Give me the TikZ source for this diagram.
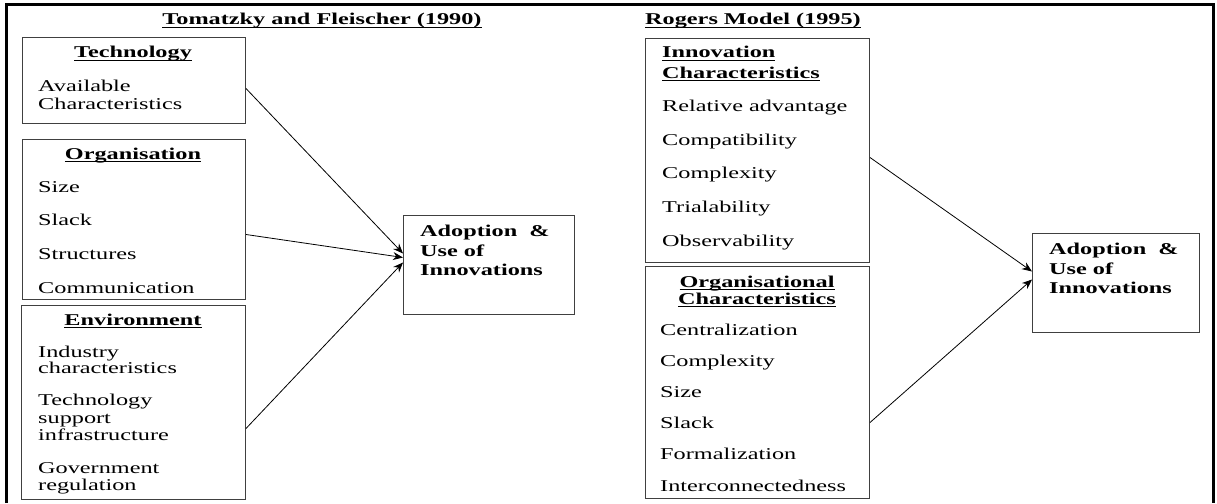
\documentclass[tikz,border=0pt]{standalone}
\usepackage{fontspec}
\usetikzlibrary{arrows.meta}
\setmainfont{Liberation Serif}[FakeStretch=1.47]
\newcommand{\ulhead}[1]{\setbox0\hbox{\textbf{#1}}\rlap{\rule[-3pt]{\wd0}{1.1pt}}\box0}
\tikzset{
  box/.style={draw=black!75, line width=1pt, anchor=north west, inner sep=0pt},
  item/.style={anchor=base west, inner sep=0pt},
  head/.style={anchor=base, inner sep=0pt},
  flow/.style={->, line width=0.8pt}
}
\begin{document}
\begin{tikzpicture}[x=1pt, y=-1pt, >={Stealth[length=10pt,width=8pt]}, font=\fontsize{16.5}{18}\selectfont]
\useasboundingbox (0,0) rectangle (1217,503);
% outer frame (open at the bottom)
\draw[line width=3pt] (6,503)--(6,5)--(1213,5)--(1213,503);
% ---- Tomatzky and Fleischer ----
\node[head] (titleL) at (322,25) {\ulhead{Tomatzky and Fleischer (1990)}};
\node[box, minimum width=223pt, minimum height=86pt] (tech) at (22,37) {};
\node[box, minimum width=223pt, minimum height=160pt] (org) at (22,139) {};
\node[box, minimum width=224pt, minimum height=194pt] (env) at (21,305) {};
\node[box, minimum width=171pt, minimum height=99pt] (adoptL) at (403,215) {};
\node[head] (techH) at (133,58) {\ulhead{Technology}};
\node[head] (orgH) at (133,159) {\ulhead{Organisation}};
\node[head] (envH) at (133,325) {\ulhead{Environment}};
\foreach \t/\y in {Available/91, Characteristics/109, Size/192, Slack/225, Structures/259, Communication/293,
  Industry/357, characteristics/373, Technology/405, support/423, infrastructure/440, Government/473, regulation/490}
  \node[item] (l\y) at (38,\y) {\t};
\foreach \t/\y in {Adoption~ \&/236, Use of/256, Innovations/275}
  \node[item, font=\fontsize{16.5}{18}\selectfont\bfseries] (a\y) at (420,\y) {\t};
\draw[flow] ([yshift=-8pt]tech.east) -- ([yshift=11.5pt]adoptL.west);
\draw[flow] ([yshift=-15pt]org.east) -- ([yshift=7.5pt]adoptL.west);
\draw[flow] ([yshift=-26pt]env.east) -- ([yshift=2.5pt]adoptL.west);
% ---- Rogers ----
\node[item] (titleR) at (645,25) {\ulhead{Rogers Model (1995)}};
\node[box, minimum width=224pt, minimum height=224pt] (innov) at (645,38) {};
\node[box, minimum width=224pt, minimum height=232pt] (orgchar) at (645,266) {};
\node[box, minimum width=167pt, minimum height=99pt] (adoptR) at (1032,233) {};
\node[item] (innovH1) at (662,58) {\ulhead{Innovation}};
\node[item] (innovH2) at (662,78) {\ulhead{Characteristics}};
\node[head] (ocH1) at (757,287) {\ulhead{Organisational}};
\node[head] (ocH2) at (757,304) {\ulhead{Characteristics}};
\foreach \t/\y in {Relative advantage/111, Compatibility/145, Complexity/178, Trialability/212, Observability/246}
  \node[item] (r\y) at (662,\y) {\t};
\foreach \t/\y in {Centralization/335, Complexity/366, Size/397, Slack/428, Formalization/459, Interconnectedness/491}
  \node[item] (c\y) at (660,\y) {\t};
\foreach \t/\y in {Adoption~ \&/254, Use of/274, Innovations/293}
  \node[item, font=\fontsize{16.5}{18}\selectfont\bfseries] (b\y) at (1049,\y) {\t};
\draw[flow] ([yshift=-7pt]innov.east) -- ([yshift=11.5pt]adoptR.west);
\draw[flow] ([yshift=-40pt]orgchar.east) -- ([yshift=3.5pt]adoptR.west);
\end{tikzpicture}
\end{document}
